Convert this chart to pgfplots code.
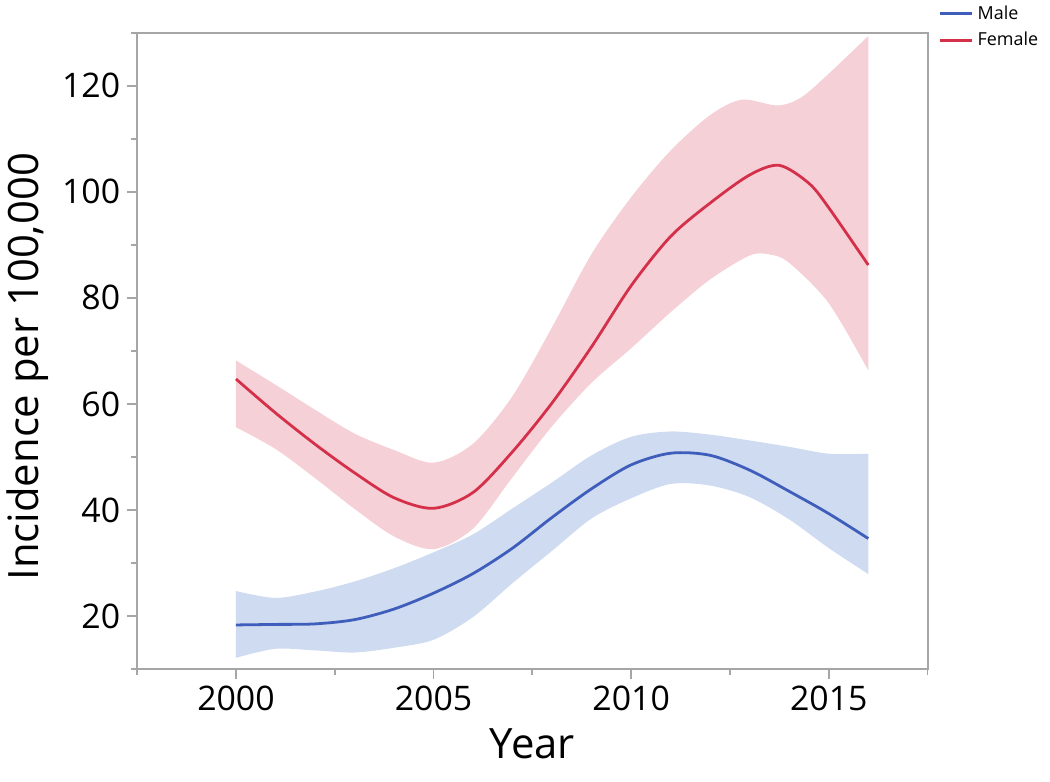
\documentclass[border=0pt]{standalone}
\usepackage{fontspec}
\setmainfont{Open Sans}
\usepackage{pgfplots}
\pgfplotsset{compat=1.18}
\usepgfplotslibrary{fillbetween}

\definecolor{maleline}{HTML}{3F5EBB}
\definecolor{femaleline}{HTML}{D5304A}
\definecolor{maleband}{HTML}{CFDBF0}
\definecolor{femaleband}{HTML}{F6D0D7}
\definecolor{axisgray}{HTML}{A6A6A6}

\begin{document}
\begin{tikzpicture}
\begin{axis}[
    at={(0,0)}, anchor=south west,
    scale only axis,
    width=397pt, height=319.5pt,
    xmin=1997.5, xmax=2017.5,
    ymin=10, ymax=130,
    xtick={2000,2005,2010,2015},
    minor xtick={1997.5,2002.5,2007.5,2012.5,2017.5},
    ytick={20,40,60,80,100,120},
    minor ytick={10,30,50,70,90,110,130},
    xtick pos=bottom, ytick pos=left,
    tick align=outside,
    major tick length=5pt, minor tick length=3pt,
    every tick/.style={axisgray, line width=0.9pt},
    axis line style={axisgray, line width=1pt},
    /pgf/number format/assume math mode=true,
    xticklabel style={/pgf/number format/1000 sep={}},
    ticklabel style={font=\fontsize{17}{20}\selectfont},
    xlabel={Year}, ylabel={Incidence per 100,000},
    label style={font=\fontsize{21}{25}\selectfont},
    xlabel style={yshift=-2pt},
    ylabel style={xshift=-8pt},
    legend style={at={(1.014,1.05)}, anchor=north west, draw=none,
        fill=none, font=\fontsize{9}{11}\selectfont,
        row sep=1pt, inner sep=0pt},
    legend cell align=left,
    legend image code/.code={\draw[#1] (0pt,0pt) -- (16pt,0pt);},
]
% female confidence band
\addplot[draw=none, name path=fu, smooth, forget plot] coordinates {
(2000,68.2) (2001,63.6) (2002,58.9) (2003,54.4) (2004,51.3) (2005,48.9)
(2006,52.5) (2007,61.5) (2008,74.5) (2009,88.3) (2010,99) (2011,107.8)
(2012,114.5) (2012.8,117.4) (2013.7,116.3) (2014.3,117.8) (2015,122.3)
(2016,129.4)};
\addplot[draw=none, name path=fl, smooth, forget plot] coordinates {
(2000,55.6) (2001,51.5) (2002,46) (2003,40.2) (2004,35) (2005,32.6)
(2006,36.5) (2007,46.2) (2008,55.8) (2009,64) (2010,70.5) (2011,77.3)
(2012,83.5) (2013,88) (2013.5,88.2) (2014,86.6) (2015,79) (2016,66.3)};
\addplot[femaleband, forget plot] fill between[of=fu and fl];
% male confidence band
\addplot[draw=none, name path=mu, smooth, forget plot] coordinates {
(2000,24.7) (2001,23.4) (2002,24.6) (2003,26.5) (2004,29) (2005,32)
(2006,35.4) (2007,40.3) (2008,45.2) (2009,50.3) (2010,53.8) (2011,54.8)
(2012,54.2) (2013,53.1) (2014,51.9) (2015,50.6) (2016,50.6)};
\addplot[draw=none, name path=ml, smooth, forget plot] coordinates {
(2000,12.1) (2001,13.8) (2002,13.5) (2003,13.1) (2004,14) (2005,15.5)
(2006,19.8) (2007,26.2) (2008,32.3) (2009,38.4) (2010,42.2) (2011,44.9)
(2012,44.6) (2013,42.4) (2014,38.2) (2015,32.8) (2016,27.9)};
\addplot[maleband, forget plot] fill between[of=mu and ml];
% fitted curves
\addplot[maleline, line width=1.4pt, smooth] coordinates {
(2000,18.3) (2001,18.4) (2002,18.5) (2003,19.3) (2004,21.3) (2005,24.3)
(2006,28) (2007,32.8) (2008,38.6) (2009,44) (2010,48.5) (2011,50.7)
(2012,50.3) (2013,47.5) (2014,43.5) (2015,39.3) (2016,34.6)};
\addlegendentry{Male}
\addplot[femaleline, line width=1.4pt, smooth] coordinates {
(2000,64.7) (2001,58.3) (2002,52.4) (2003,47) (2004,42.3) (2005,40.3)
(2006,43.3) (2007,51) (2008,60.2) (2009,70.8) (2010,82.3) (2011,91.6)
(2012,97.9) (2013,103.2) (2013.75,105) (2014.5,101.6) (2015,97)
(2016,86.2)};
\addlegendentry{Female}
\end{axis}
% page is 1050x785 px at 0.5pt per px
\path (-66.5pt,-56.5pt) rectangle (458.5pt,336pt);
\end{tikzpicture}
\end{document}
